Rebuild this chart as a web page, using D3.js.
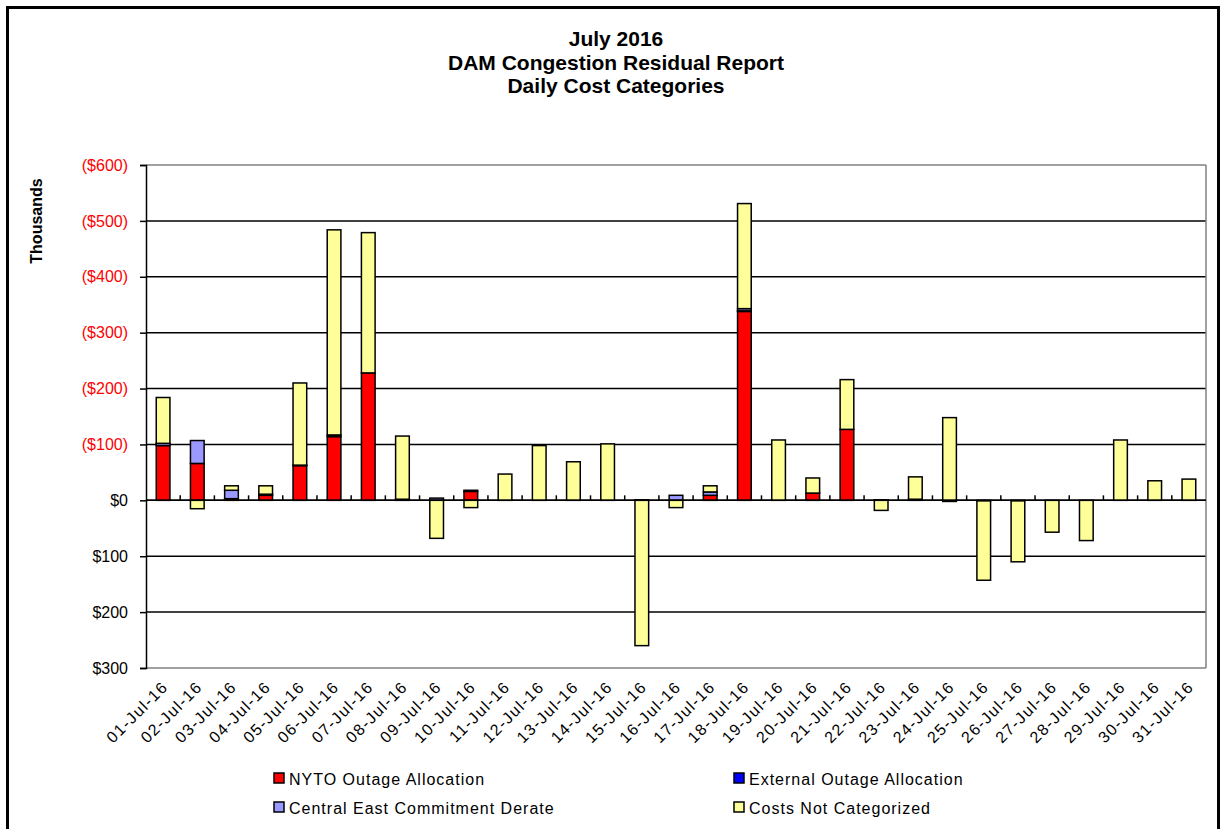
<!DOCTYPE html>
<html><head><meta charset="utf-8">
<script src="https://cdn.jsdelivr.net/npm/d3@7"></script>
<style>
body{margin:0;background:#fff;}
text{font-family:"Liberation Sans",Arial,sans-serif;}
</style></head>
<body><svg id="c" width="1222" height="829"></svg>
<script>
// Values in thousands; positive = shortfall (drawn upward, labelled in parentheses)
const days = ["01-Jul-16","02-Jul-16","03-Jul-16","04-Jul-16","05-Jul-16","06-Jul-16","07-Jul-16","08-Jul-16","09-Jul-16","10-Jul-16","11-Jul-16","12-Jul-16","13-Jul-16","14-Jul-16","15-Jul-16","16-Jul-16","17-Jul-16","18-Jul-16","19-Jul-16","20-Jul-16","21-Jul-16","22-Jul-16","23-Jul-16","24-Jul-16","25-Jul-16","26-Jul-16","27-Jul-16","28-Jul-16","29-Jul-16","30-Jul-16","31-Jul-16"];
const nyto     = [98,66,3,9,62,114,228,0,0,16,0,0,0,0,0,0,9,338,0,13,127,0,0,0,0,0,0,0,0,0,0];
const external = [0,0,0,2,1,3,0,2,0,2,0,0,0,0,1,0,0,1,0,0,0,1,2,-2,-1,-1,0,0,0,0,0];
const central  = [4,41,15,0,0,0,0,0,4,0,0,0,0,0,0,9,6,4,0,0,0,0,0,0,0,0,0,0,0,0,0];
const uncat    = [82,-15,8,15,147,367,251,113,-68,-13,47,98,69,101,-260,-13,11,188,108,27,89,-18,40,148,-142,-109,-57,-72,108,35,38];
const yTicks = [-300,-200,-100,0,100,200,300,400,500,600];
const seriesNames = ["NYTO Outage Allocation","External Outage Allocation","Central East Commitment Derate","Costs Not Categorized"];
const seriesColors = ["#FF0000","#0000FF","#9999FF","#FFFF99"];

const svg = d3.select("#c");
// outer frame
svg.append("rect").attr("x",7.5).attr("y",7.5).attr("width",1211).attr("height",840)
  .attr("fill","none").attr("stroke","#000").attr("stroke-width",3);

const L=146,R=1206,T=165,B=668;
const x = d3.scaleBand().domain(days).range([L,R]).paddingInner(0.6).paddingOuter(0.3);
const xb = d3.scaleBand().domain(days).range([L,R]);
const y = d3.scaleLinear().domain([-300,600]).range([B,T]);

// titles
const titles=["July 2016","DAM Congestion Residual Report","Daily Cost Categories"];
svg.selectAll("text.title").data(titles).join("text").attr("class","title")
  .attr("x",616).attr("y",(d,i)=>46+i*23.5).attr("text-anchor","middle")
  .attr("font-size",21).attr("font-weight","bold").text(d=>d);

// grid lines
svg.append("g").selectAll("line").data(yTicks).join("line")
  .attr("x1",L).attr("x2",R).attr("y1",d=>y(d)).attr("y2",d=>y(d))
  .attr("stroke",d=>(d===600||d===-300)?"#808080":"#000").attr("stroke-width",1.5);
// right border
svg.append("line").attr("x1",R).attr("x2",R).attr("y1",T).attr("y2",B).attr("stroke","#808080").attr("stroke-width",1.5);

// y axis
const yAxis = d3.axisLeft(y).tickValues(yTicks).tickSize(6).tickPadding(12)
  .tickFormat(d=> d>0 ? "($"+d+")" : "$"+Math.abs(d));
const ga = svg.append("g").attr("transform",`translate(${L},0)`).call(yAxis);
ga.select(".domain").attr("stroke","#000").attr("stroke-width",1.5);
ga.selectAll(".tick line").attr("stroke","#000").attr("stroke-width",1.5);
ga.selectAll(".tick text").attr("font-size",16).attr("font-family","Liberation Sans, Arial, sans-serif")
  .attr("fill",d=>d>0?"#FF0000":"#000");

svg.append("text").attr("transform","translate(42,221) rotate(-90)")
  .attr("text-anchor","middle").attr("font-size",16).attr("font-weight","bold").text("Thousands");

// stacked bars
const series=[nyto,external,central,uncat];
const g = svg.append("g");
days.forEach((d,i)=>{
  let pos=0,neg=0;
  series.forEach((s,k)=>{
    const v=s[i]; if(!v) return;
    let y0,y1;
    if(v>0){y0=pos;y1=pos+v;pos=y1;} else {y0=neg;y1=neg+v;neg=y1;}
    g.append("rect").attr("x",x(d)).attr("width",x.bandwidth())
      .attr("y",y(Math.max(y0,y1))).attr("height",Math.abs(y(y0)-y(y1)))
      .attr("fill",seriesColors[k]).attr("stroke","#000").attr("stroke-width",1.5);
  });
});

// x axis at zero with inside ticks
svg.append("line").attr("x1",L).attr("x2",R).attr("y1",y(0)).attr("y2",y(0)).attr("stroke","#000").attr("stroke-width",1.5);
svg.append("g").selectAll("line").data(days.slice(1)).join("line")
  .attr("x1",d=>xb(d)).attr("x2",d=>xb(d)).attr("y1",y(0)).attr("y2",y(0)-5)
  .attr("stroke","#000").attr("stroke-width",1.5);

// x labels
svg.append("g").selectAll("text").data(days).join("text")
  .attr("transform",d=>`translate(${xb(d)+xb.bandwidth()/2+6},${B+20}) rotate(-45)`)
  .attr("text-anchor","end").attr("font-size",16).attr("letter-spacing",1.4).text(d=>d);

// legend
const leg=[[273,779],[733,779],[273,808],[733,808]];
seriesNames.forEach((n,k)=>{
  const [lx,ly]=leg[k];
  svg.append("rect").attr("x",lx+1).attr("y",ly-6).attr("width",10).attr("height",10)
    .attr("fill",seriesColors[k]).attr("stroke","#000").attr("stroke-width",1.5);
  svg.append("text").attr("x",lx+16).attr("y",ly+6).attr("font-size",16).attr("letter-spacing",1).text(n);
});
</script></body></html>
